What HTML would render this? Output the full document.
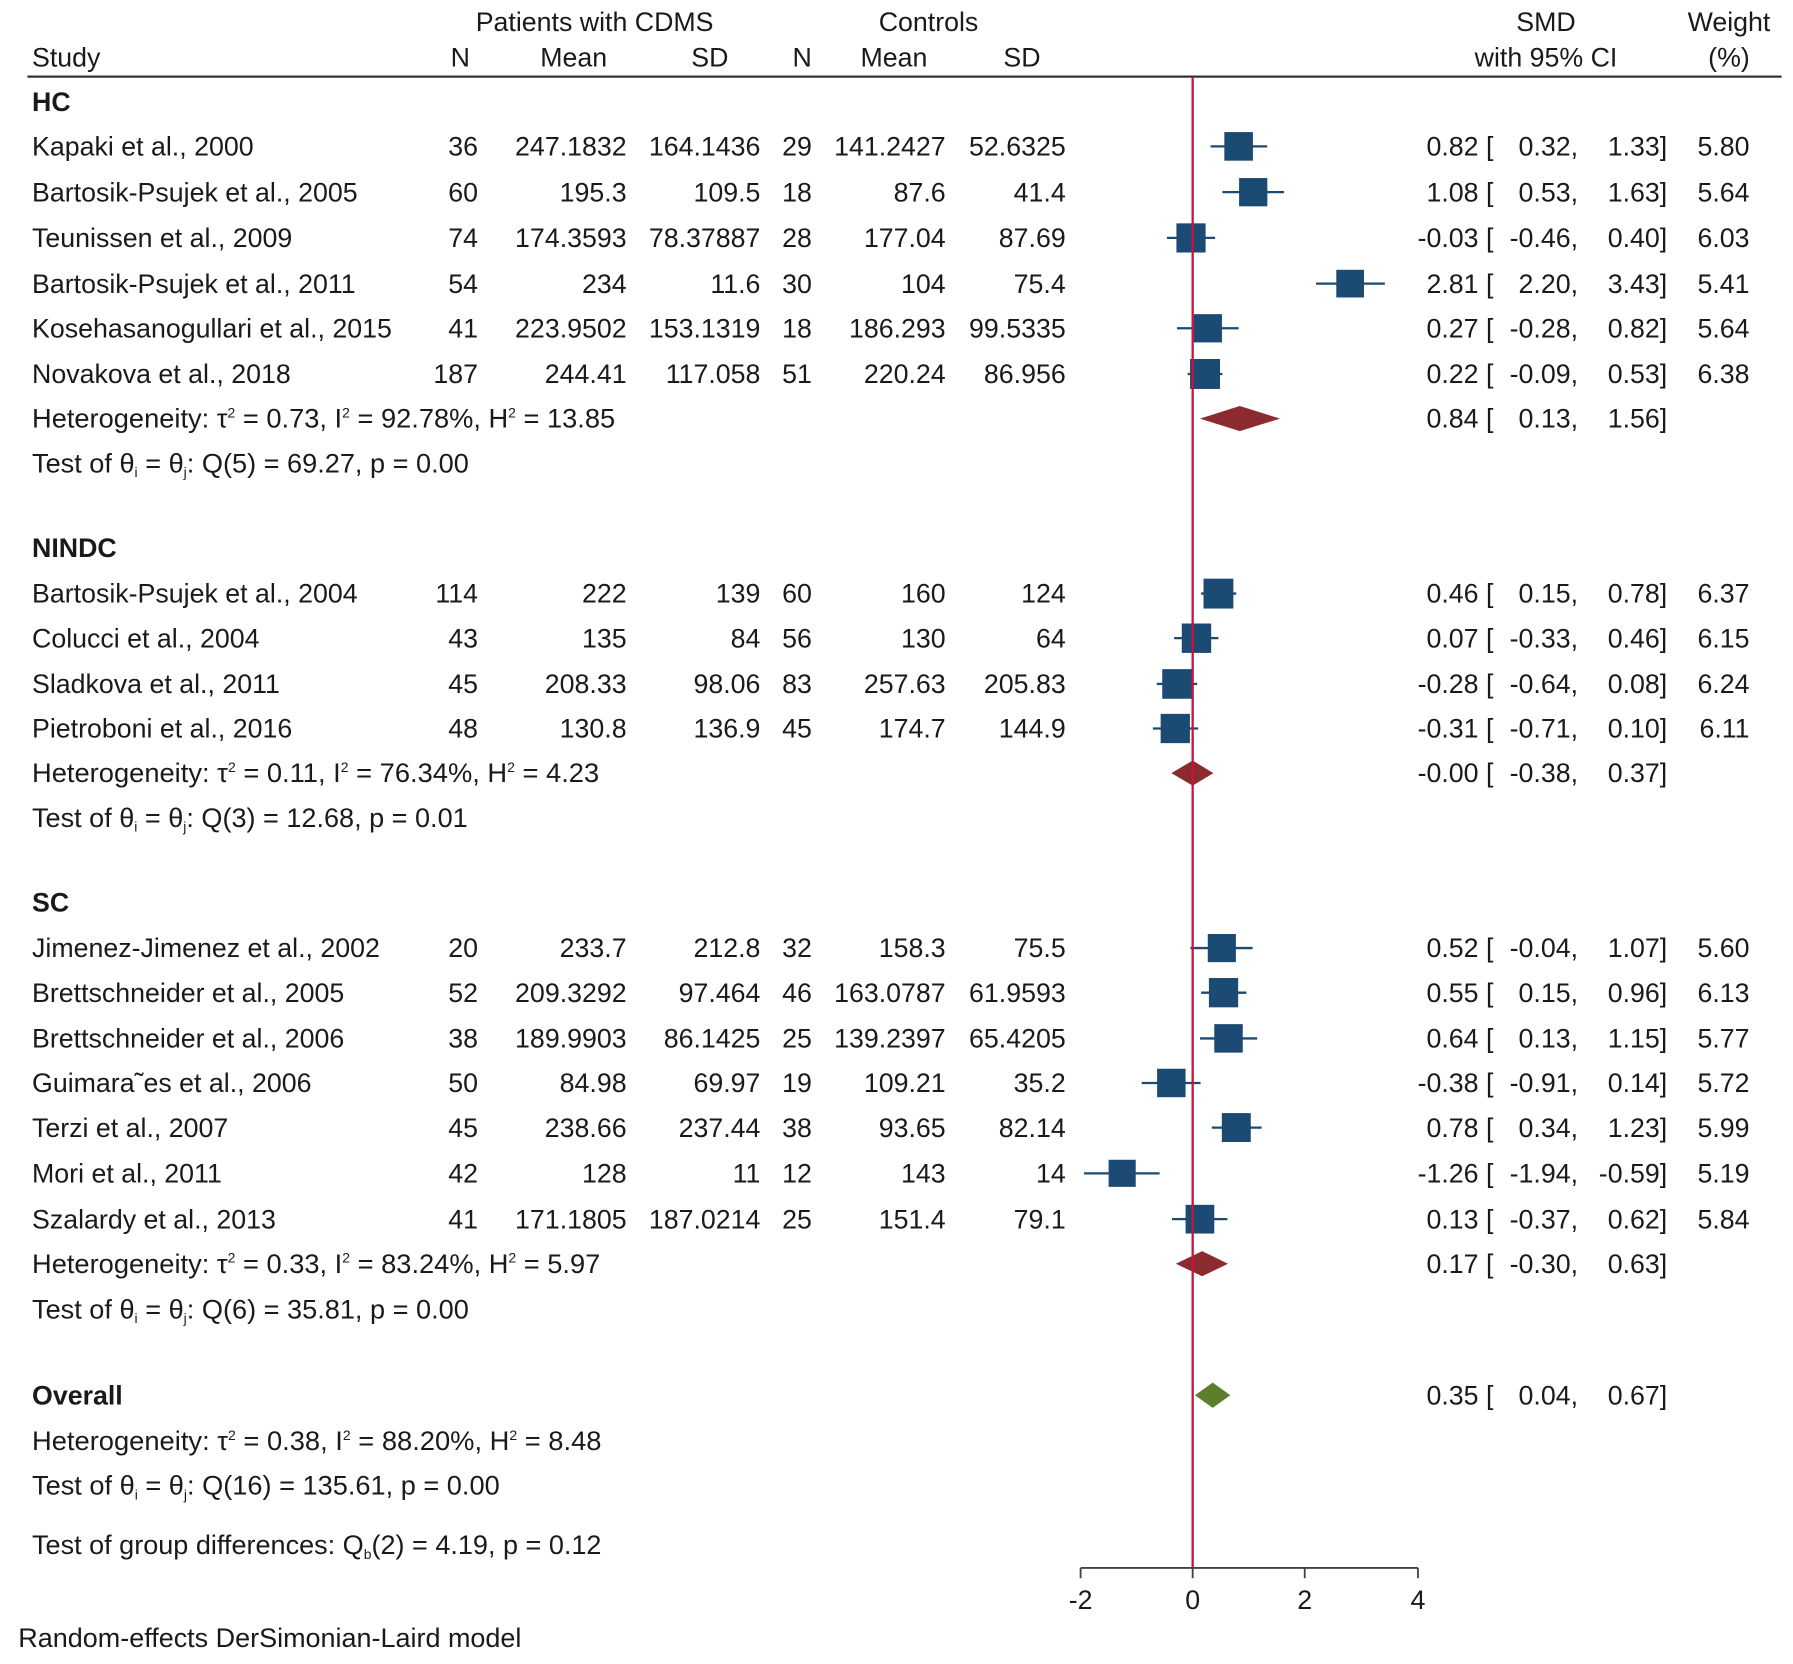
<!DOCTYPE html>
<html><head><meta charset="utf-8"><style>
html,body{margin:0;padding:0;background:#fff;}
svg{display:block;}
text{font-family:"Liberation Sans",Arial,sans-serif;font-size:23.4px;fill:#1a1a1a;}
.b{font-weight:bold;}
.e{text-anchor:end;}
.m{text-anchor:middle;}
.sup{font-size:12px;}
</style></head><body>
<svg width="1793" height="1664" viewBox="0 0 1568 1455" preserveAspectRatio="none" xmlns="http://www.w3.org/2000/svg">
<rect width="1568" height="1455" fill="#fff"/>
<text x="520" y="27" class="m">Patients with CDMS</text>
<text x="812" y="27" class="m">Controls</text>
<text x="1352" y="27" class="m">SMD</text>
<text x="1512" y="27" class="m">Weight</text>
<text x="28" y="58">Study</text>
<text x="411" y="58" class="e">N</text>
<text x="531" y="58" class="e">Mean</text>
<text x="637" y="58" class="e">SD</text>
<text x="710" y="58" class="e">N</text>
<text x="811" y="58" class="e">Mean</text>
<text x="910" y="58" class="e">SD</text>
<text x="1352" y="58" class="m">with 95% CI</text>
<text x="1512" y="58" class="m">(%)</text>
<line x1="24" y1="67" x2="1558" y2="67" stroke="#333" stroke-width="2"/>

<g fill="#1b4a73" stroke="#1b4a73">
<line x1="1058.7" y1="128" x2="1108.2" y2="128" stroke-width="2"/><rect x="1071.2" y="116" width="24" height="24"/>
<line x1="1069" y1="168" x2="1122.9" y2="168" stroke-width="2"/><rect x="1084.1" y="156.2" width="23.7" height="23.7"/>
<line x1="1020.5" y1="208" x2="1062.6" y2="208" stroke-width="2"/><rect x="1029.3" y="195.8" width="24.5" height="24.5"/>
<line x1="1150.8" y1="248" x2="1211.1" y2="248" stroke-width="2"/><rect x="1169.1" y="236.4" width="23.2" height="23.2"/>
<line x1="1029.3" y1="287" x2="1083.2" y2="287" stroke-width="2"/><rect x="1044.4" y="275.2" width="23.7" height="23.7"/>
<line x1="1038.6" y1="327" x2="1069" y2="327" stroke-width="2"/><rect x="1041.2" y="314.4" width="25.2" height="25.2"/>

<line x1="1050.4" y1="519" x2="1081.2" y2="519" stroke-width="2"/><rect x="1053" y="506.5" width="25.1" height="25.1"/>
<line x1="1026.8" y1="558" x2="1065.5" y2="558" stroke-width="2"/><rect x="1034" y="545.7" width="24.7" height="24.7"/>
<line x1="1011.6" y1="598" x2="1046.9" y2="598" stroke-width="2"/><rect x="1016.9" y="585.6" width="24.9" height="24.9"/>
<line x1="1008.2" y1="637" x2="1047.9" y2="637" stroke-width="2"/><rect x="1015.5" y="624.7" width="24.6" height="24.6"/>

<line x1="1041" y1="829" x2="1095.4" y2="829" stroke-width="2"/><rect x="1056.7" y="817.2" width="23.6" height="23.6"/>
<line x1="1050.4" y1="868" x2="1090" y2="868" stroke-width="2"/><rect x="1057.7" y="855.7" width="24.6" height="24.6"/>
<line x1="1049.4" y1="908" x2="1099.4" y2="908" stroke-width="2"/><rect x="1062.4" y="896" width="23.9" height="23.9"/>
<line x1="998.4" y1="947" x2="1049.9" y2="947" stroke-width="2"/><rect x="1012.4" y="935" width="23.9" height="23.9"/>
<line x1="1059.7" y1="986" x2="1103.3" y2="986" stroke-width="2"/><rect x="1069" y="973.8" width="24.3" height="24.3"/>
<line x1="948" y1="1026" x2="1014.1" y2="1026" stroke-width="2"/><rect x="970" y="1014.6" width="22.7" height="22.7"/>
<line x1="1024.9" y1="1066" x2="1073.4" y2="1066" stroke-width="2"/><rect x="1037.3" y="1054" width="24.1" height="24.1"/>
</g>
<g fill="#8b2b30">
<polygon points="1049.4,366 1084.2,355 1119.4,366 1084.2,377"/>
<polygon points="1024.4,676 1043,665 1061.1,676 1043,687"/>
<polygon points="1028.3,1105 1051.3,1094 1073.9,1105 1051.3,1116"/>
</g>
<polygon points="1045,1220 1060.5,1209 1076,1220 1060.5,1231" fill="#5b7f2c"/>
<line x1="1043" y1="67" x2="1043" y2="1371" stroke="#c8143c" stroke-width="2"/>
<g stroke="#444" stroke-width="1.6" fill="none">
<line x1="945" y1="1371" x2="1240" y2="1371"/>
<line x1="945" y1="1371" x2="945" y2="1380"/>
<line x1="1043" y1="1371" x2="1043" y2="1380"/>
<line x1="1141" y1="1371" x2="1141" y2="1380"/>
<line x1="1240" y1="1371" x2="1240" y2="1380"/>
</g>
<text x="945" y="1407" class="m">-2</text>
<text x="1043" y="1407" class="m">0</text>
<text x="1141" y="1407" class="m">2</text>
<text x="1240" y="1407" class="m">4</text>

<text x="28" y="97" class="b">HC</text>
<text x="28" y="136">Kapaki et al., 2000</text><text x="418" y="136" class="e">36</text><text x="548" y="136" class="e">247.1832</text><text x="665" y="136" class="e">164.1436</text><text x="710" y="136" class="e">29</text><text x="827" y="136" class="e">141.2427</text><text x="932" y="136" class="e">52.6325</text>
<text x="28" y="176">Bartosik-Psujek et al., 2005</text><text x="418" y="176" class="e">60</text><text x="548" y="176" class="e">195.3</text><text x="665" y="176" class="e">109.5</text><text x="710" y="176" class="e">18</text><text x="827" y="176" class="e">87.6</text><text x="932" y="176" class="e">41.4</text>
<text x="28" y="216">Teunissen et al., 2009</text><text x="418" y="216" class="e">74</text><text x="548" y="216" class="e">174.3593</text><text x="665" y="216" class="e">78.37887</text><text x="710" y="216" class="e">28</text><text x="827" y="216" class="e">177.04</text><text x="932" y="216" class="e">87.69</text>
<text x="28" y="256">Bartosik-Psujek et al., 2011</text><text x="418" y="256" class="e">54</text><text x="548" y="256" class="e">234</text><text x="665" y="256" class="e">11.6</text><text x="710" y="256" class="e">30</text><text x="827" y="256" class="e">104</text><text x="932" y="256" class="e">75.4</text>
<text x="28" y="295">Kosehasanogullari et al., 2015</text><text x="418" y="295" class="e">41</text><text x="548" y="295" class="e">223.9502</text><text x="665" y="295" class="e">153.1319</text><text x="710" y="295" class="e">18</text><text x="827" y="295" class="e">186.293</text><text x="932" y="295" class="e">99.5335</text>
<text x="28" y="335">Novakova et al., 2018</text><text x="418" y="335" class="e">187</text><text x="548" y="335" class="e">244.41</text><text x="665" y="335" class="e">117.058</text><text x="710" y="335" class="e">51</text><text x="827" y="335" class="e">220.24</text><text x="932" y="335" class="e">86.956</text>
<text x="28" y="374" textLength="510" lengthAdjust="spacingAndGlyphs">Heterogeneity: τ<tspan class="sup" dy="-9">2</tspan><tspan dy="9"> = 0.73, I</tspan><tspan class="sup" dy="-9">2</tspan><tspan dy="9"> = 92.78%, H</tspan><tspan class="sup" dy="-9">2</tspan><tspan dy="9"> = 13.85</tspan></text>
<text x="28" y="413" textLength="382" lengthAdjust="spacingAndGlyphs">Test of θ<tspan class="sup" dy="4">i</tspan><tspan dy="-4"> = θ</tspan><tspan class="sup" dy="4">j</tspan><tspan dy="-4">: Q(5) = 69.27, p = 0.00</tspan></text>

<text x="28" y="487" class="b">NINDC</text>
<text x="28" y="527">Bartosik-Psujek et al., 2004</text><text x="418" y="527" class="e">114</text><text x="548" y="527" class="e">222</text><text x="665" y="527" class="e">139</text><text x="710" y="527" class="e">60</text><text x="827" y="527" class="e">160</text><text x="932" y="527" class="e">124</text>
<text x="28" y="566">Colucci et al., 2004</text><text x="418" y="566" class="e">43</text><text x="548" y="566" class="e">135</text><text x="665" y="566" class="e">84</text><text x="710" y="566" class="e">56</text><text x="827" y="566" class="e">130</text><text x="932" y="566" class="e">64</text>
<text x="28" y="606">Sladkova et al., 2011</text><text x="418" y="606" class="e">45</text><text x="548" y="606" class="e">208.33</text><text x="665" y="606" class="e">98.06</text><text x="710" y="606" class="e">83</text><text x="827" y="606" class="e">257.63</text><text x="932" y="606" class="e">205.83</text>
<text x="28" y="645">Pietroboni et al., 2016</text><text x="418" y="645" class="e">48</text><text x="548" y="645" class="e">130.8</text><text x="665" y="645" class="e">136.9</text><text x="710" y="645" class="e">45</text><text x="827" y="645" class="e">174.7</text><text x="932" y="645" class="e">144.9</text>
<text x="28" y="684" textLength="496" lengthAdjust="spacingAndGlyphs">Heterogeneity: τ<tspan class="sup" dy="-9">2</tspan><tspan dy="9"> = 0.11, I</tspan><tspan class="sup" dy="-9">2</tspan><tspan dy="9"> = 76.34%, H</tspan><tspan class="sup" dy="-9">2</tspan><tspan dy="9"> = 4.23</tspan></text>
<text x="28" y="723" textLength="381" lengthAdjust="spacingAndGlyphs">Test of θ<tspan class="sup" dy="4">i</tspan><tspan dy="-4"> = θ</tspan><tspan class="sup" dy="4">j</tspan><tspan dy="-4">: Q(3) = 12.68, p = 0.01</tspan></text>

<text x="28" y="797" class="b">SC</text>
<text x="28" y="837">Jimenez-Jimenez et al., 2002</text><text x="418" y="837" class="e">20</text><text x="548" y="837" class="e">233.7</text><text x="665" y="837" class="e">212.8</text><text x="710" y="837" class="e">32</text><text x="827" y="837" class="e">158.3</text><text x="932" y="837" class="e">75.5</text>
<text x="28" y="876">Brettschneider et al., 2005</text><text x="418" y="876" class="e">52</text><text x="548" y="876" class="e">209.3292</text><text x="665" y="876" class="e">97.464</text><text x="710" y="876" class="e">46</text><text x="827" y="876" class="e">163.0787</text><text x="932" y="876" class="e">61.9593</text>
<text x="28" y="916">Brettschneider et al., 2006</text><text x="418" y="916" class="e">38</text><text x="548" y="916" class="e">189.9903</text><text x="665" y="916" class="e">86.1425</text><text x="710" y="916" class="e">25</text><text x="827" y="916" class="e">139.2397</text><text x="932" y="916" class="e">65.4205</text>
<text x="28" y="955">Guimara˜es et al., 2006</text><text x="418" y="955" class="e">50</text><text x="548" y="955" class="e">84.98</text><text x="665" y="955" class="e">69.97</text><text x="710" y="955" class="e">19</text><text x="827" y="955" class="e">109.21</text><text x="932" y="955" class="e">35.2</text>
<text x="28" y="994">Terzi et al., 2007</text><text x="418" y="994" class="e">45</text><text x="548" y="994" class="e">238.66</text><text x="665" y="994" class="e">237.44</text><text x="710" y="994" class="e">38</text><text x="827" y="994" class="e">93.65</text><text x="932" y="994" class="e">82.14</text>
<text x="28" y="1034">Mori et al., 2011</text><text x="418" y="1034" class="e">42</text><text x="548" y="1034" class="e">128</text><text x="665" y="1034" class="e">11</text><text x="710" y="1034" class="e">12</text><text x="827" y="1034" class="e">143</text><text x="932" y="1034" class="e">14</text>
<text x="28" y="1074">Szalardy et al., 2013</text><text x="418" y="1074" class="e">41</text><text x="548" y="1074" class="e">171.1805</text><text x="665" y="1074" class="e">187.0214</text><text x="710" y="1074" class="e">25</text><text x="827" y="1074" class="e">151.4</text><text x="932" y="1074" class="e">79.1</text>
<text x="28" y="1113" textLength="497" lengthAdjust="spacingAndGlyphs">Heterogeneity: τ<tspan class="sup" dy="-9">2</tspan><tspan dy="9"> = 0.33, I</tspan><tspan class="sup" dy="-9">2</tspan><tspan dy="9"> = 83.24%, H</tspan><tspan class="sup" dy="-9">2</tspan><tspan dy="9"> = 5.97</tspan></text>
<text x="28" y="1153" textLength="382" lengthAdjust="spacingAndGlyphs">Test of θ<tspan class="sup" dy="4">i</tspan><tspan dy="-4"> = θ</tspan><tspan class="sup" dy="4">j</tspan><tspan dy="-4">: Q(6) = 35.81, p = 0.00</tspan></text>

<text x="28" y="1228" class="b">Overall</text>
<text x="28" y="1268" textLength="498" lengthAdjust="spacingAndGlyphs">Heterogeneity: τ<tspan class="sup" dy="-9">2</tspan><tspan dy="9"> = 0.38, I</tspan><tspan class="sup" dy="-9">2</tspan><tspan dy="9"> = 88.20%, H</tspan><tspan class="sup" dy="-9">2</tspan><tspan dy="9"> = 8.48</tspan></text>
<text x="28" y="1307" textLength="409" lengthAdjust="spacingAndGlyphs">Test of θ<tspan class="sup" dy="4">i</tspan><tspan dy="-4"> = θ</tspan><tspan class="sup" dy="4">j</tspan><tspan dy="-4">: Q(16) = 135.61, p = 0.00</tspan></text>
<text x="28" y="1359" textLength="498" lengthAdjust="spacingAndGlyphs">Test of group differences: Q<tspan class="sup" dy="4">b</tspan><tspan dy="-4">(2) = 4.19, p = 0.12</tspan></text>
<text x="16" y="1440" textLength="440" lengthAdjust="spacingAndGlyphs">Random-effects DerSimonian-Laird model</text>

<g>
<text x="1306" y="136" class="e">0.82 [</text><text x="1380" y="136" class="e">0.32,</text><text x="1458" y="136" class="e">1.33]</text><text x="1530" y="136" class="e">5.80</text>
<text x="1306" y="176" class="e">1.08 [</text><text x="1380" y="176" class="e">0.53,</text><text x="1458" y="176" class="e">1.63]</text><text x="1530" y="176" class="e">5.64</text>
<text x="1306" y="216" class="e">-0.03 [</text><text x="1380" y="216" class="e">-0.46,</text><text x="1458" y="216" class="e">0.40]</text><text x="1530" y="216" class="e">6.03</text>
<text x="1306" y="256" class="e">2.81 [</text><text x="1380" y="256" class="e">2.20,</text><text x="1458" y="256" class="e">3.43]</text><text x="1530" y="256" class="e">5.41</text>
<text x="1306" y="295" class="e">0.27 [</text><text x="1380" y="295" class="e">-0.28,</text><text x="1458" y="295" class="e">0.82]</text><text x="1530" y="295" class="e">5.64</text>
<text x="1306" y="335" class="e">0.22 [</text><text x="1380" y="335" class="e">-0.09,</text><text x="1458" y="335" class="e">0.53]</text><text x="1530" y="335" class="e">6.38</text>
<text x="1306" y="374" class="e">0.84 [</text><text x="1380" y="374" class="e">0.13,</text><text x="1458" y="374" class="e">1.56]</text>

<text x="1306" y="527" class="e">0.46 [</text><text x="1380" y="527" class="e">0.15,</text><text x="1458" y="527" class="e">0.78]</text><text x="1530" y="527" class="e">6.37</text>
<text x="1306" y="566" class="e">0.07 [</text><text x="1380" y="566" class="e">-0.33,</text><text x="1458" y="566" class="e">0.46]</text><text x="1530" y="566" class="e">6.15</text>
<text x="1306" y="606" class="e">-0.28 [</text><text x="1380" y="606" class="e">-0.64,</text><text x="1458" y="606" class="e">0.08]</text><text x="1530" y="606" class="e">6.24</text>
<text x="1306" y="645" class="e">-0.31 [</text><text x="1380" y="645" class="e">-0.71,</text><text x="1458" y="645" class="e">0.10]</text><text x="1530" y="645" class="e">6.11</text>
<text x="1306" y="684" class="e">-0.00 [</text><text x="1380" y="684" class="e">-0.38,</text><text x="1458" y="684" class="e">0.37]</text>

<text x="1306" y="837" class="e">0.52 [</text><text x="1380" y="837" class="e">-0.04,</text><text x="1458" y="837" class="e">1.07]</text><text x="1530" y="837" class="e">5.60</text>
<text x="1306" y="876" class="e">0.55 [</text><text x="1380" y="876" class="e">0.15,</text><text x="1458" y="876" class="e">0.96]</text><text x="1530" y="876" class="e">6.13</text>
<text x="1306" y="916" class="e">0.64 [</text><text x="1380" y="916" class="e">0.13,</text><text x="1458" y="916" class="e">1.15]</text><text x="1530" y="916" class="e">5.77</text>
<text x="1306" y="955" class="e">-0.38 [</text><text x="1380" y="955" class="e">-0.91,</text><text x="1458" y="955" class="e">0.14]</text><text x="1530" y="955" class="e">5.72</text>
<text x="1306" y="994" class="e">0.78 [</text><text x="1380" y="994" class="e">0.34,</text><text x="1458" y="994" class="e">1.23]</text><text x="1530" y="994" class="e">5.99</text>
<text x="1306" y="1034" class="e">-1.26 [</text><text x="1380" y="1034" class="e">-1.94,</text><text x="1458" y="1034" class="e">-0.59]</text><text x="1530" y="1034" class="e">5.19</text>
<text x="1306" y="1074" class="e">0.13 [</text><text x="1380" y="1074" class="e">-0.37,</text><text x="1458" y="1074" class="e">0.62]</text><text x="1530" y="1074" class="e">5.84</text>
<text x="1306" y="1113" class="e">0.17 [</text><text x="1380" y="1113" class="e">-0.30,</text><text x="1458" y="1113" class="e">0.63]</text>

<text x="1306" y="1228" class="e">0.35 [</text><text x="1380" y="1228" class="e">0.04,</text><text x="1458" y="1228" class="e">0.67]</text>
</g>
</svg>
</body></html>
